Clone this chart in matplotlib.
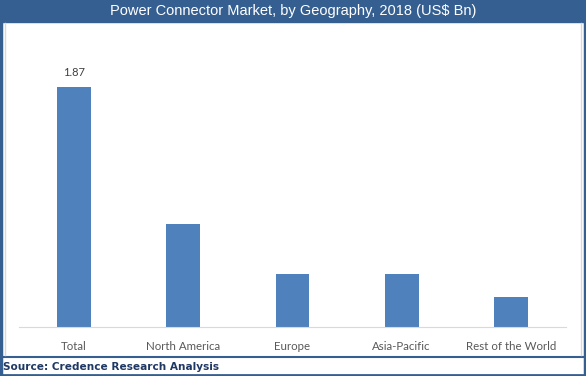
import matplotlib
matplotlib.use("Agg")
import matplotlib.pyplot as plt
from matplotlib.patches import Rectangle
from matplotlib.lines import Line2D

# values (US$ Bn)
regions = ["Total", "North America", "Europe", "Asia-Pacific", "Rest of the World"]
market = [1.87, 0.80, 0.41, 0.41, 0.23]

W, H = 586, 376
fig = plt.figure(figsize=(W / 100, H / 100), dpi=100)

dark_blue = "#365f91"
bar_blue = "#4f81bd"


def fx(px):
    return px / W


def fy(py):
    return 1 - py / H


# title bar
fig.patches.append(Rectangle((0, fy(22)), 1, 22 / H, transform=fig.transFigure,
                             color=dark_blue, zorder=0))
fig.text(0.5, fy(11), "Power Connector Market, by Geography, 2018 (US$ Bn)",
         ha="center", va="center", color="white", fontsize=10.5,
         family="Liberation Sans")

# outer frame lines
fig.add_artist(Line2D([fx(1), fx(1)], [0, 1], color=dark_blue, lw=2.5))
fig.add_artist(Line2D([fx(585), fx(585)], [0, 1], color=dark_blue, lw=2.5))
fig.add_artist(Line2D([0, 1], [fy(375), fy(375)], color=dark_blue, lw=2))
fig.add_artist(Line2D([0, 1], [fy(357), fy(357)], color=dark_blue, lw=1.5))
# inner light frame
fig.add_artist(Line2D([fx(5), fx(5)], [fy(355), fy(23)], color="#d9d9d9", lw=1))
fig.add_artist(Line2D([fx(581), fx(581)], [fy(355), fy(23)], color="#d9d9d9", lw=1))

fig.text(fx(3), fy(366.5), "Source: Credence Research Analysis", ha="left",
         va="center", color="#1f3864", fontsize=7.6, fontweight="bold",
         family="DejaVu Sans")

ax = fig.add_axes([fx(19.5), fy(327), fx(546), (327 - 70) / H])
x = range(len(regions))
ax.bar(x, market, width=0.31, color=bar_blue, zorder=2)
ax.set_xlim(-0.5, len(regions) - 0.5)
ax.set_ylim(0, 2.0)
ax.text(0, market[0] + 0.07, f"{market[0]:.2f}", ha="center", va="bottom",
        fontsize=8, color="#404040", family="Lato")

for side in ["top", "right", "left"]:
    ax.spines[side].set_visible(False)
ax.spines["bottom"].set_color("#d9d9d9")
ax.set_yticks([])
ax.set_xticks(list(x))
ax.set_xticklabels(regions, fontsize=8.3, color="#595959", family="Lato")
ax.tick_params(axis="x", length=0, pad=10)

plt.savefig("out.png", dpi=100)
